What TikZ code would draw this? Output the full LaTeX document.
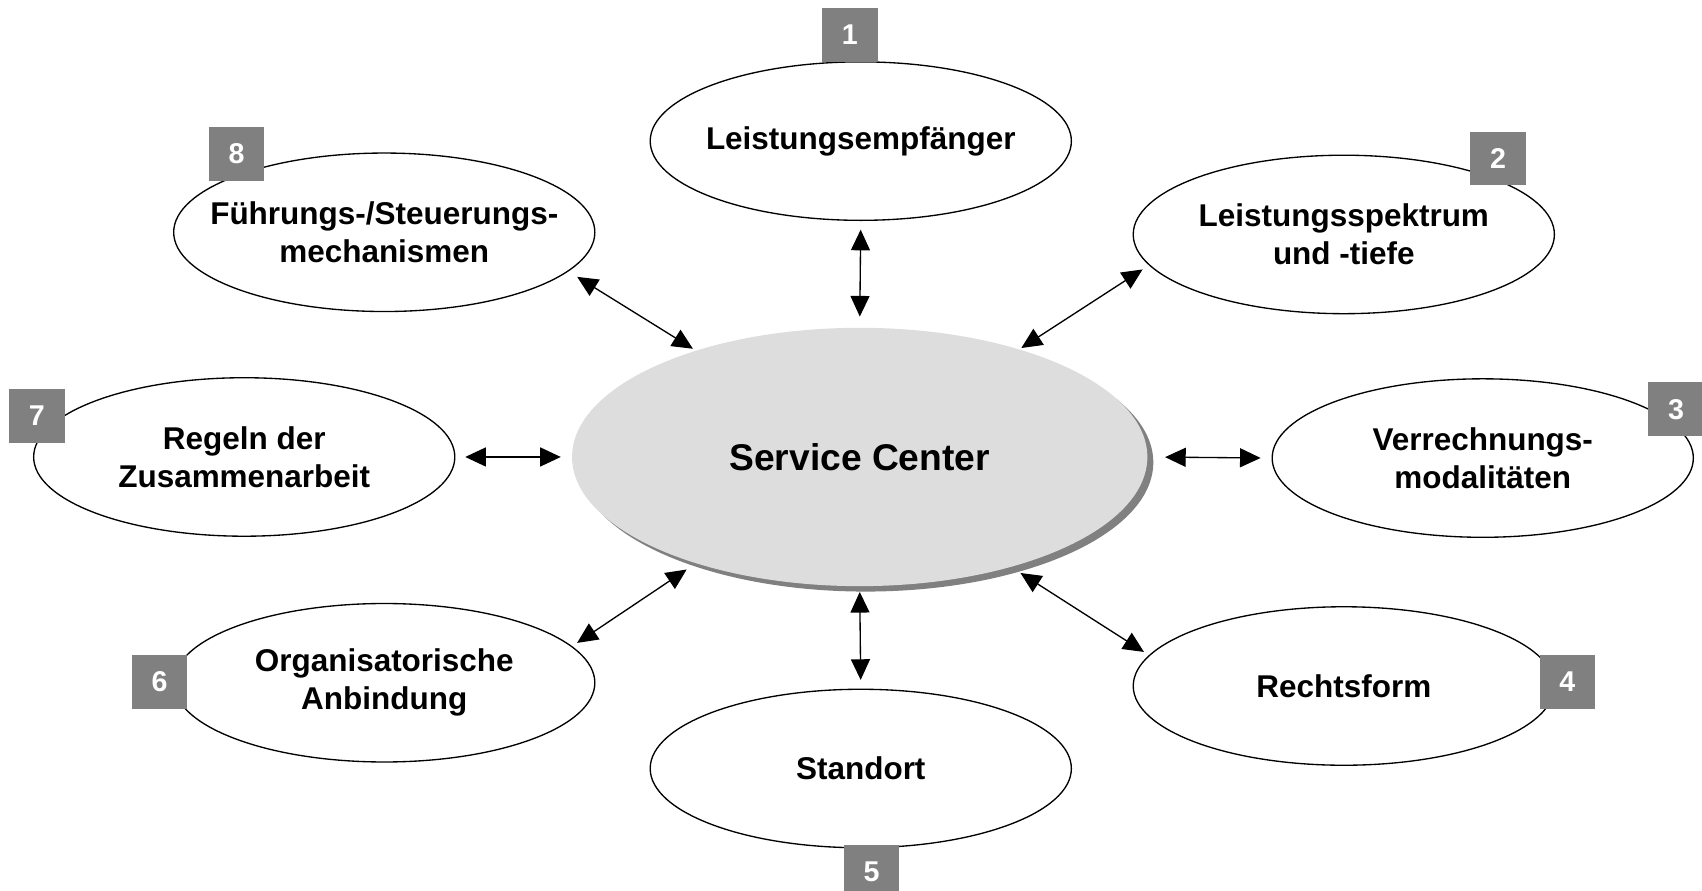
\documentclass[tikz,border=0pt]{standalone}
\usepackage{fontspec}
\setmainfont{Liberation Sans}
\usetikzlibrary{arrows.meta,shapes.geometric,shadows}

\definecolor{boxgray}{RGB}{128,128,128}
\definecolor{coregray}{RGB}{221,221,221}

\tikzset{
  field/.style={draw, ellipse, line width=0.7pt, minimum width=7.76cm, minimum height=2.92cm, inner sep=0pt},
  fieldtext/.style={font=\fontsize{16.5}{20}\selectfont\bfseries, align=center},
  numbox/.style={fill=boxgray, minimum width=1.02cm, minimum height=0.99cm, inner sep=0pt, text=white, font=\fontsize{15}{15}\selectfont\bfseries},
  link/.style={{Triangle[length=0.38cm,width=0.35cm]}-{Triangle[length=0.38cm,width=0.35cm]}, line width=0.7pt, shorten <=0.18cm, shorten >=0.18cm},
}

\begin{document}
\begin{tikzpicture}
      \useasboundingbox (0, 0) rectangle (31.36, 16.4);

      % core
      \node[ellipse, fill=coregray, minimum width=10.6cm, minimum height=4.76cm, inner sep=0pt,
            font=\fontsize{19.5}{20}\selectfont\bfseries,
            drop shadow={shadow xshift=0.11cm, shadow yshift=-0.1cm, fill=boxgray, opacity=1}]
            (sc) at (15.84, 7.98) {Service Center};

      % design fields
      \node[field, label={[fieldtext]center:Leistungsempfänger}] (e1) at (15.86, 13.8) {};
      \node[field, label={[fieldtext]center:{Leistungsspektrum\\und -tiefe}}] (e2) at (24.76, 12.08) {};
      \node[field, label={[fieldtext]center:{Verrechnungs-\\modalitäten}}] (e3) at (27.32, 7.96) {};
      \node[field, label={[fieldtext]center:Rechtsform}] (e4) at (24.76, 3.76) {};
      \node[field, label={[fieldtext]center:Standort}] (e5) at (15.86, 2.24) {};
      \node[field, label={[fieldtext]center:{Organisatorische\\Anbindung}}] (e6) at (7.08, 3.82) {};
      \node[field, label={[fieldtext]center:{Regeln der\\Zusammenarbeit}}] (e7) at (4.5, 7.98) {};
      \node[field, label={[fieldtext]center:{Führungs-/Steuerungs-\\mechanismen}}] (e8) at (7.08, 12.12) {};

      % numbers
      \node[numbox] (b1) at (15.66, 15.76) {1};
      \node[numbox] (b2) at (27.6, 13.48) {2};
      \node[numbox] (b3) at (30.88, 8.86) {3};
      \node[numbox] (b4) at (28.88, 3.84) {4};
      \node[numbox] (b5) at (16.06, 0.34) {5};
      \node[numbox] (b6) at (2.94, 3.84) {6};
      \node[numbox] (b7) at (0.68, 8.74) {7};
      \node[numbox] (b8) at (4.36, 13.56) {8};

      \draw[link, shorten <=0.2cm, shorten >=0.16cm] (sc.90) -- (e1.270);
      \draw[link, shorten <=0.04cm, shorten >=0.14cm] (sc.34) -- (e2.189);
      \draw[link, shorten <=0.32cm, shorten >=0.2cm] (sc.0) -- (e3.180);
      \draw[link, shorten <=0.2cm, shorten >=0.11cm] (sc.-36) -- (e4.171);
      \draw[link, shorten <=0.1cm, shorten >=0.16cm] (sc.270) -- (e5.90);
      \draw[link, shorten <=0.2cm, shorten >=0.11cm] (sc.213.5) -- (e6.11);
      \draw[link, shorten <=0.2cm, shorten >=0.18cm] (sc.180) -- (e7.0);
      \draw[link, shorten <=0.06cm, shorten >=0.19cm] (sc.147) -- (e8.-12);
\end{tikzpicture}
\end{document}
